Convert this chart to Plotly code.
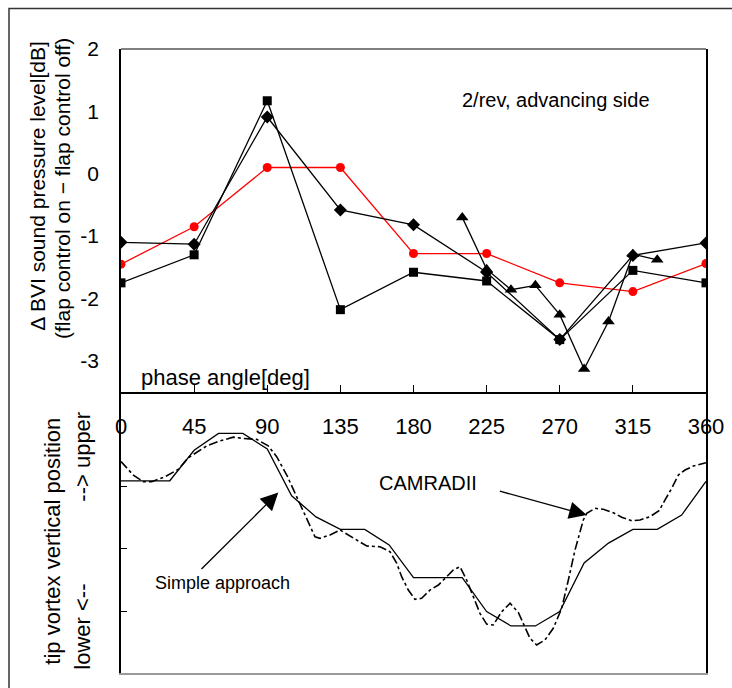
import plotly.graph_objects as go

# ---------------- data ----------------
phase = [0, 45, 90, 135, 180, 225, 270, 315, 360]
diamond_vals = [-1.10, -1.13, 0.91, -0.58, -0.82, -1.58, -2.66, -1.31, -1.11]
square_vals = [-1.75, -1.30, 1.17, -2.18, -1.58, -1.72, -2.66, -1.55, -1.75]
red_vals = [-1.45, -0.85, 0.10, 0.10, -1.28, -1.28, -1.75, -1.89, -1.44]

tri_phase = [210, 225, 240, 255, 270, 285, 300, 315, 330]
tri_vals = [-0.70, -1.53, -1.86, -1.79, -2.26, -3.13, -2.37, -1.29, -1.38]

simple_phase = [0, 15, 30, 45, 60, 75, 90, 105, 120, 135, 150, 165, 180, 195, 210,
                225, 240, 255, 270, 285, 300, 315, 330, 345, 360]
simple_pos = [3.09, 3.09, 3.09, 3.58, 3.85, 3.85, 3.60, 2.85, 2.51, 2.31, 2.31, 2.06, 1.535, 1.535, 1.535,
              0.99, 0.76, 0.76, 0.99, 1.77, 2.09, 2.31, 2.31, 2.54, 3.08]

cam_phase = [0, 7.6, 13.7, 18.9, 27.1, 35.3, 41.4, 52.7, 60.9, 69.1, 75.3, 83.5, 90.6, 95.8, 102,
             108.1, 114.3, 119.4, 122.5, 128.6, 134.8, 143, 151.2, 159.4, 165.5, 169.7, 172.7,
             176.8, 180.9, 185, 190.2, 195.3, 200.4, 204.5, 208.6, 212.7, 216.8, 220.9, 225,
             229.1, 234.3, 239.4, 244.5, 248.6, 251.7, 255.8, 260.9, 266, 271.2, 275.3, 279.4,
             284.5, 286.6, 291.7, 296.8, 303, 308.1, 314.3, 319.4, 325.5, 331.1, 334.8, 338.9,
             343, 347.1, 352.2, 360]
cam_pos = [3.40, 3.18, 3.075, 3.075, 3.156, 3.274, 3.46, 3.65, 3.73, 3.79, 3.77, 3.755, 3.65, 3.477, 3.183,
           2.835, 2.46, 2.19, 2.167, 2.22, 2.30, 2.167, 2.043, 2.032, 1.952, 1.766, 1.55,
           1.337, 1.188, 1.204, 1.337, 1.417, 1.55, 1.658, 1.711, 1.498, 1.23, 0.963, 0.79,
           0.775, 0.989, 1.124, 0.976, 0.748, 0.562, 0.454, 0.535, 0.722, 1.043, 1.498, 1.979,
           2.461, 2.568, 2.648, 2.632, 2.578, 2.504, 2.449, 2.461, 2.514, 2.61, 2.782, 2.97,
           3.183, 3.263, 3.327, 3.38]

x_tickvals = [0, 45, 90, 135, 180, 225, 270, 315, 360]
x_ticktext = ["0", "45", "90", "135", "180", "225", "270", "315", "360"]
y_tickvals = [-3, -2, -1, 0, 1, 2]
y_ticktext = ["-3", "-2", "-1", "0", "1", "2"]
y2_tickvals = [1, 2, 3]

# ---------------- layout helpers ----------------
W, H = 732, 688
def px(x):
    return x / W
def py(y):
    return 1 - y / H

FONT = "Arial, Liberation Sans, sans-serif"

fig = go.Figure()

line_w = 1.3
fig.add_trace(go.Scatter(x=phase, y=red_vals, mode="lines+markers",
                         line=dict(color="#ff0000", width=line_w),
                         marker=dict(symbol="circle", size=9, color="#ff0000"),
                         xaxis="x", yaxis="y", showlegend=False))
fig.add_trace(go.Scatter(x=phase, y=diamond_vals, mode="lines+markers",
                         line=dict(color="black", width=line_w),
                         marker=dict(symbol="diamond", size=10, color="black"),
                         xaxis="x", yaxis="y", showlegend=False))
fig.add_trace(go.Scatter(x=phase, y=square_vals, mode="lines+markers",
                         line=dict(color="black", width=line_w),
                         marker=dict(symbol="square", size=9, color="black"),
                         xaxis="x", yaxis="y", showlegend=False))
fig.add_trace(go.Scatter(x=tri_phase, y=tri_vals, mode="lines+markers",
                         line=dict(color="black", width=line_w),
                         marker=dict(symbol="triangle-up", size=11, color="black"),
                         xaxis="x", yaxis="y", showlegend=False))

fig.add_trace(go.Scatter(x=simple_phase, y=simple_pos, mode="lines",
                         line=dict(color="black", width=1.3),
                         xaxis="x2", yaxis="y2", showlegend=False))
fig.add_trace(go.Scatter(x=cam_phase, y=cam_pos, mode="lines",
                         line=dict(color="black", width=1.6, dash="dashdot"),
                         xaxis="x2", yaxis="y2", showlegend=False))

xdom = [px(121), px(706)]
fig.update_layout(
    width=W, height=H,
    margin=dict(l=0, r=0, t=0, b=0, autoexpand=False),
    paper_bgcolor="white", plot_bgcolor="white",
    font=dict(family=FONT, color="black"),
    xaxis=dict(domain=xdom, range=[0, 360], anchor="y", automargin=False,
               tickvals=x_tickvals, ticktext=x_ticktext,
               ticks="inside", ticklen=7, tickwidth=1.3, tickcolor="black",
               showline=True, linecolor="black", linewidth=1.5,
               showgrid=False, zeroline=False,
               tickfont=dict(size=22, family=FONT), ticklabelstandoff=14),
    yaxis=dict(domain=[py(392), py(49)], range=[-3.5, 2], anchor="x", automargin=False,
               tickvals=y_tickvals, ticktext=y_ticktext,
               ticks="", showline=True, mirror=True, linecolor="black", linewidth=1.5,
               showgrid=False, zeroline=False,
               tickfont=dict(size=21, family=FONT), ticklabelstandoff=16),
    xaxis2=dict(domain=xdom, range=[0, 360], anchor="y2", automargin=False,
                showticklabels=False, ticks="",
                showline=True, linecolor="#999999", linewidth=1.8,
                showgrid=False, zeroline=False),
    yaxis2=dict(domain=[py(673.3), py(392)], range=[0, 4.515], anchor="x2", automargin=False,
                tickvals=y2_tickvals, showticklabels=False,
                ticks="inside", ticklen=6, tickwidth=1.3, tickcolor="black",
                showline=True, mirror=True, linecolor="black", linewidth=1.5,
                showgrid=False, zeroline=False),
)

shapes = [
    dict(type="line", xref="paper", yref="paper", x0=px(121), x1=px(706), y0=py(49), y1=py(49),
         line=dict(color="#808080", width=2), layer="above"),
    dict(type="rect", xref="paper", yref="paper", x0=px(9), x1=px(760), y0=py(720), y1=py(8.5),
         line=dict(color="#333333", width=1.5)),
]
fig.update_layout(shapes=shapes)

ann = []
def txt(text, x, y, size, angle=0):
    ann.append(dict(text=text, xref="paper", yref="paper", x=px(x), y=py(y),
                    xanchor="center", yanchor="middle", showarrow=False,
                    textangle=angle, font=dict(size=size, family=FONT, color="black")))

txt("Δ BVI sound pressure level[dB]", 36.7, 186, 21, -90)
txt("(flap control on − flap control off)", 63, 189, 21, -90)
txt("tip vortex vertical position", 51.7, 541, 22, -90)
txt("lower <--", 81.7, 627, 22, -90)
txt("--> upper", 81.7, 457, 22, -90)
txt("phase angle[deg]", 225, 377, 22)
txt("2/rev, advancing side", 556, 100, 20)
txt("Simple approach", 222, 582.7, 18)
txt("CAMRADII", 427.7, 483.3, 20)

ann.append(dict(text="", xref="x2", yref="y2", axref="x2", ayref="y2",
                x=96.8, y=2.90, ax=48.6, ay=1.65, showarrow=True,
                arrowhead=2, arrowsize=2.7, arrowwidth=1.3, arrowcolor="black"))
ann.append(dict(text="", xref="x2", yref="y2", axref="x2", ayref="y2",
                x=286.6, y=2.54, ax=232.2, ay=2.93, showarrow=True,
                arrowhead=2, arrowsize=2.7, arrowwidth=1.3, arrowcolor="black"))
fig.update_layout(annotations=ann)

fig.write_html("out.html")
